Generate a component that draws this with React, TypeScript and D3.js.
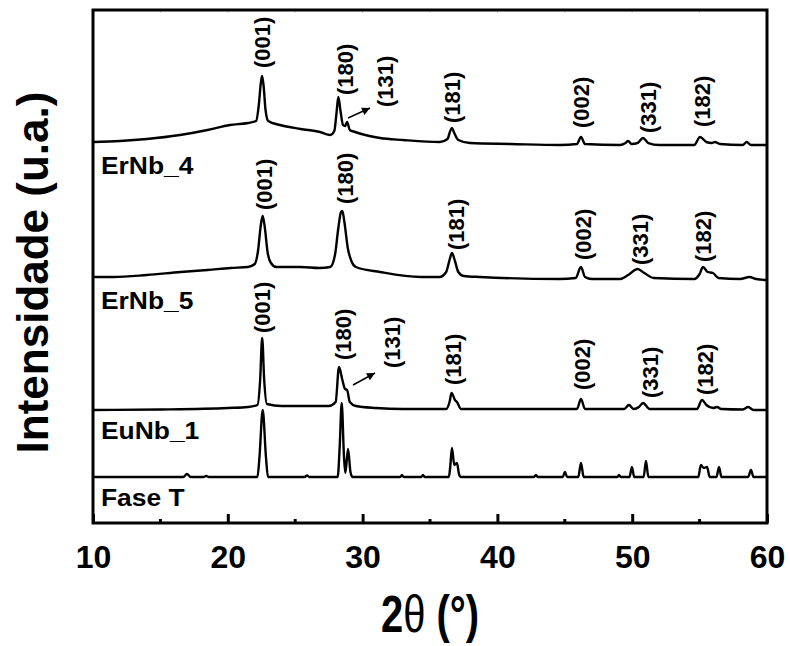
import { useRef, useEffect } from 'react';
import * as d3 from 'd3';

type Pt = [number, number];

// 2theta (deg), intensity (a.u.) above each pattern's own baseline
const erNb4: Pt[] = [
  [10, 3], [12, 4], [14, 6], [16.45, 10], [18.5, 15], [20.16, 20], [21.5, 22], [22.1, 24],
  [22.3, 40], [22.45, 62], [22.54, 69], [22.65, 60], [22.8, 35], [23.0, 24], [23.87, 20],
  [25.4, 16], [26.84, 13], [27.6, 10], [27.9, 14], [28.05, 30], [28.2, 48], [28.35, 35],
  [28.55, 20], [28.7, 19], [28.85, 23], [29.05, 15], [29.44, 13], [30.5, 9], [31.29, 7],
  [33, 5], [35.74, 3], [36.3, 6], [36.5, 14], [36.63, 17], [36.8, 12], [37.1, 5], [37.97, 2],
  [41, 1], [44.64, 0], [45.9, 1], [46.2, 8], [46.5, 1], [49.1, 0], [49.5, 2], [49.7, 4],
  [49.95, 1], [50.4, 2], [50.8, 7], [51.2, 2], [52, 0], [54.6, 0], [55.03, 8], [55.5, 3],
  [55.9, 2], [56.14, 3], [56.5, 1], [58.2, 0], [58.5, 3], [58.8, 0], [60, 0],
];

const erNb5: Pt[] = [
  [10, 3], [11.5, 3], [14, 5], [16.5, 8], [18.5, 10], [20.2, 12], [21.5, 13], [22.0, 16],
  [22.25, 30], [22.45, 55], [22.59, 64], [22.75, 52], [22.95, 28], [23.2, 17], [23.6, 13],
  [25.4, 13], [26.8, 12], [27.6, 13], [27.95, 25], [28.2, 52], [28.4, 68], [28.5, 69],
  [28.65, 58], [28.9, 32], [29.2, 18], [29.5, 13], [31.3, 8], [34.3, 3], [35.7, 3], [36.2, 8],
  [36.45, 20], [36.63, 27], [36.85, 19], [37.1, 8], [37.5, 4], [38.7, 3], [44.6, 1], [45.8, 2],
  [46.2, 13], [46.5, 3], [47, 1], [49.1, 1], [49.7, 5], [50.4, 11], [50.9, 7], [51.6, 2],
  [54.6, 1], [55.0, 6], [55.25, 13], [55.6, 8], [55.99, 7], [56.4, 2], [58.0, 1], [58.7, 3],
  [59.2, 1], [60, 0],
];

const euNb1: Pt[] = [
  [10, 0], [15, 0.5], [20, 2], [21.5, 3], [22.2, 5], [22.4, 30], [22.55, 72], [22.7, 30],
  [22.9, 6], [24, 4], [26, 4], [27.5, 4], [28.0, 8], [28.25, 43], [28.5, 30], [28.7, 21],
  [28.85, 20], [29.05, 8], [29.5, 4], [31, 2], [33, 1], [36.2, 1], [36.45, 8], [36.6, 17],
  [36.85, 10], [37.0, 8], [37.3, 1], [45.9, 1], [46.2, 11], [46.5, 1], [49.4, 1], [49.76, 5],
  [50.1, 1], [50.5, 3], [50.8, 7], [51.3, 1], [54.8, 1], [55.18, 10], [55.5, 5], [56.0, 2],
  [56.3, 3], [56.6, 1], [58.2, 0.5], [58.6, 3], [59, 0], [60, 0],
];

const faseT: Pt[] = [
  [10, 0], [16.7, 0], [16.97, 3], [17.25, 0], [18.2, 0], [18.4, 1], [18.6, 0], [22.2, 0],
  [22.35, 20], [22.59, 67], [22.83, 20], [22.98, 0], [25.7, 0], [25.88, 1.5], [26.05, 0],
  [28.15, 0], [28.3, 30], [28.45, 74], [28.62, 20], [28.72, 4], [28.92, 28], [29.1, 5],
  [29.25, 0], [32.8, 0], [32.92, 2], [33.05, 0], [34.35, 0], [34.48, 2], [34.6, 0], [36.4, 0],
  [36.5, 10], [36.63, 29], [36.8, 12], [37.0, 14], [37.15, 3], [37.3, 0], [42.7, 0],
  [42.86, 2], [43.0, 0], [44.85, 0], [45.01, 5], [45.17, 0], [46.0, 0], [46.2, 14], [46.4, 0],
  [48.9, 0], [49.02, 2], [49.15, 0], [49.8, 0], [49.98, 10], [50.15, 0], [50.85, 0],
  [51.02, 16], [51.2, 0], [54.9, 0], [55.1, 12], [55.3, 9], [55.55, 10], [55.75, 0],
  [56.25, 0], [56.44, 10], [56.62, 0], [58.6, 0], [58.81, 7], [59.0, 0], [60, 0],
];

// peak labels: hkl, 2theta, intensity where the label starts
const erNb4Labels: [string, number, number][] = [
  ['(001)', 22.54, 77], ['(180)', 28.69, 50], ['(131)', 31.66, 38], ['(181)', 36.63, 22],
  ['(002)', 46.2, 17], ['(331)', 51.17, 12], ['(182)', 55.18, 18],
];
const erNb5Labels: [string, number, number][] = [
  ['(001)', 22.69, 70], ['(180)', 28.69, 76], ['(181)', 36.93, 30], ['(002)', 46.35, 20],
  ['(331)', 50.58, 15], ['(182)', 55.25, 18],
];
const euNb1Labels: [string, number, number][] = [
  ['(001)', 22.54, 77], ['(180)', 28.55, 50], ['(131)', 32.18, 42], ['(181)', 36.7, 25],
  ['(002)', 46.28, 20], ['(331)', 51.32, 12], ['(182)', 55.4, 15],
];

// arrows pointing at the (131) shoulder: [from, to]
const erNb4Arrow: [Pt, Pt] = [[28.92, 27], [30.55, 37]];
const euNb1Arrow: [Pt, Pt] = [[29.29, 25], [30.92, 37]];

const names = ['ErNb_4', 'ErNb_5', 'EuNb_1', 'Fase T'];
const offsets = [378, 243, 113, 46];

const majorTicks = [10, 20, 30, 40, 50, 60];
const minorTicks = [15, 25, 35, 45, 55];

const FONT = '"Liberation Sans", Arial, Helvetica, sans-serif';

const App = () => {
  const ref = useRef<HTMLDivElement>(null);

  useEffect(() => {
    document.body.style.margin = '0';
    const width = 790;
    const height = 646;
    const left = 93;
    const right = 767;
    const top = 10;
    const bottom = 523;

    const x = d3.scaleLinear([10, 60], [left, right]);
    const y = d3.scaleLinear([0, 513], [bottom, top]);

    const table = [
      { points: erNb4, labels: erNb4Labels, arrow: erNb4Arrow },
      { points: erNb5, labels: erNb5Labels, arrow: null },
      { points: euNb1, labels: euNb1Labels, arrow: euNb1Arrow },
      { points: faseT, labels: [], arrow: null },
    ].map((d, i) => ({ ...d, name: names[i], offset: offsets[i] }));

    const el = ref.current!;
    el.innerHTML = '';
    const svg = d3
      .select(el)
      .append('svg')
      .attr('width', width)
      .attr('height', height)
      .attr('viewBox', [0, 0, width, height])
      .style('display', 'block')
      .style('background', '#fff');

    svg
      .append('defs')
      .append('marker')
      .attr('id', 'arr')
      .attr('viewBox', '0 0 10 10')
      .attr('refX', 10)
      .attr('refY', 5)
      .attr('markerUnits', 'userSpaceOnUse')
      .attr('markerWidth', 11)
      .attr('markerHeight', 8)
      .attr('orient', 'auto')
      .append('path')
      .attr('d', 'M0,0L10,5L0,10z')
      .attr('fill', '#000');

    const plot = svg.append('g');

    // patterns
    table.forEach((s) => {
      const line = d3
        .line<Pt>()
        .curve(d3.curveMonotoneX)
        .x((d) => x(d[0]))
        .y((d) => y(d[1] + s.offset));
      plot
        .append('path')
        .attr('fill', 'none')
        .attr('stroke', '#000')
        .attr('stroke-width', 2.4)
        .attr('stroke-linejoin', 'round')
        .attr('d', line(s.points));

      s.labels.forEach(([t, tx, ti]) => {
        plot
          .append('text')
          .attr('transform', `translate(${x(tx)},${y(ti + s.offset)}) rotate(-90)`)
          .attr('dy', '0.36em')
          .attr('font-family', FONT)
          .attr('font-weight', 'bold')
          .attr('font-size', 22)
          .text(t);
      });

      if (s.arrow) {
        plot
          .append('line')
          .attr('x1', x(s.arrow[0][0]))
          .attr('y1', y(s.arrow[0][1] + s.offset))
          .attr('x2', x(s.arrow[1][0]))
          .attr('y2', y(s.arrow[1][1] + s.offset))
          .attr('stroke', '#000')
          .attr('stroke-width', 1.5)
          .attr('marker-end', 'url(#arr)');
      }

      plot
        .append('text')
        .attr('transform', `translate(${left + 8},${y(s.offset) + 29}) scale(1.1,1)`)
        .attr('font-family', FONT)
        .attr('font-weight', 'bold')
        .attr('font-size', 24)
        .text(s.name);
    });

    // top faint ticks
    svg
      .append('g')
      .selectAll('line')
      .data([...majorTicks.slice(1, -1), ...minorTicks])
      .join('line')
      .attr('x1', (d) => x(d))
      .attr('x2', (d) => x(d))
      .attr('y1', top)
      .attr('y2', top + 3)
      .attr('stroke', '#ccc')
      .attr('stroke-width', 1);

    // bottom axis
    const xAxis = d3
      .axisBottom(x)
      .tickValues(majorTicks)
      .tickSize(-9)
      .tickSizeOuter(0)
      .tickPadding(22)
      .tickFormat(d3.format('d'));
    svg
      .append('g')
      .attr('transform', `translate(0,${bottom})`)
      .call(xAxis)
      .call((g) => g.select('.domain').remove())
      .call((g) => g.selectAll('.tick line').attr('stroke-width', 3))
      .call((g) =>
        g
          .selectAll('.tick text')
          .attr('font-family', FONT)
          .attr('font-weight', 'bold')
          .attr('font-size', 32)
          .attr('fill', '#000')
      );

    svg
      .append('g')
      .selectAll('line')
      .data(minorTicks)
      .join('line')
      .attr('x1', (d) => x(d))
      .attr('x2', (d) => x(d))
      .attr('y1', bottom)
      .attr('y2', bottom - 4)
      .attr('stroke', '#000')
      .attr('stroke-width', 3);

    // frame
    svg
      .append('rect')
      .attr('x', left)
      .attr('y', top)
      .attr('width', right - left)
      .attr('height', bottom - top)
      .attr('fill', 'none')
      .attr('stroke', '#000')
      .attr('stroke-width', 3);

    // axis titles
    const xt = svg
      .append('text')
      .attr('transform', `translate(${(left + right) / 2},632) scale(1,1.3)`)
      .attr('text-anchor', 'middle')
      .attr('font-family', FONT)
      .attr('font-weight', 'bold')
      .attr('font-size', 40);
    xt.append('tspan').text('2');
    xt.append('tspan').attr('font-weight', 'normal').text('θ');
    xt.append('tspan').text(' (°)');

    svg
      .append('text')
      .attr('transform', `translate(48,${(top + bottom) / 2 + 6}) rotate(-90)`)
      .attr('text-anchor', 'middle')
      .attr('font-family', FONT)
      .attr('font-weight', 'bold')
      .attr('font-size', 44)
      .text('Intensidade (u.a.)');
  }, []);

  return <div ref={ref} />;
};

export default App;
